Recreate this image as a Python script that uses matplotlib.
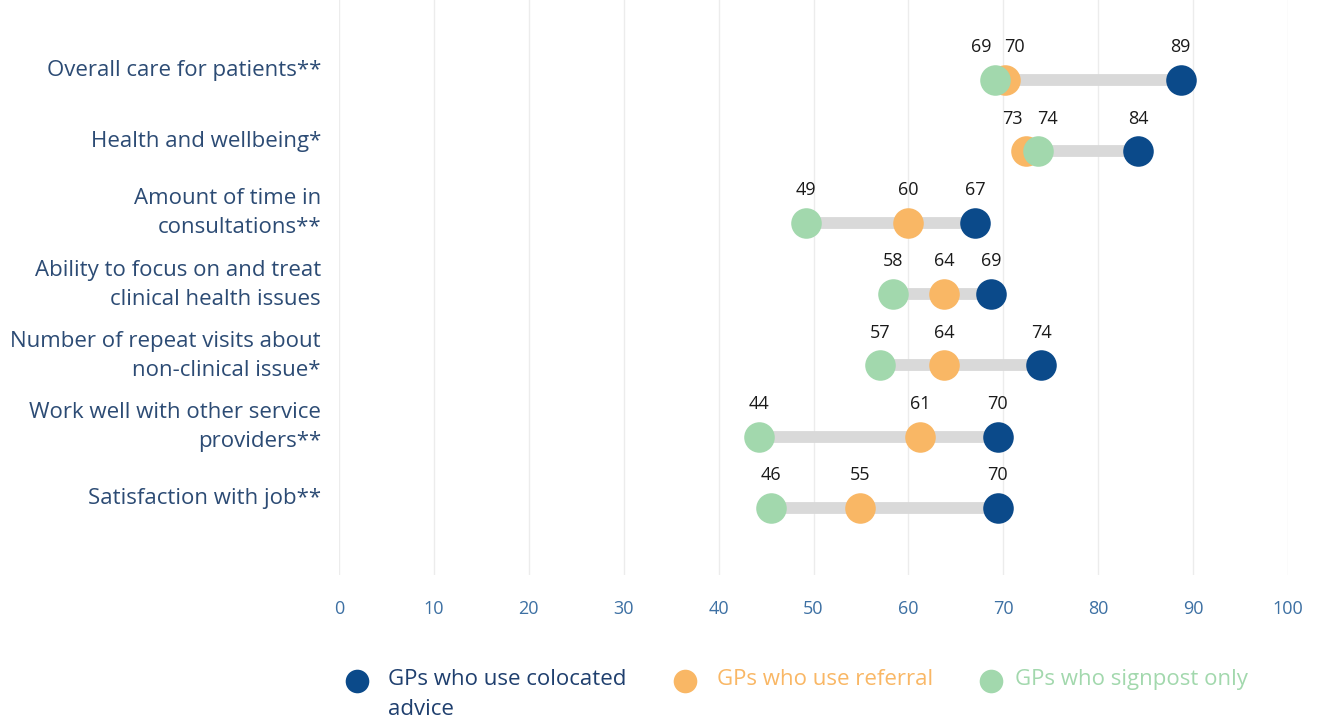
import matplotlib.pyplot as plt
from matplotlib.lines import Line2D

# === DATA ===
categories = [
    "Overall care for patients**",
    "Health and wellbeing*",
    "Amount of time in\nconsultations**",
    "Ability to focus on and treat\nclinical health issues",
    "Number of repeat visits about\nnon-clinical issue*",
    "Work well with other service\nproviders**",
    "Satisfaction with job**",
]
colocated = [88.7, 84.2, 67.0, 68.7, 74.0, 69.4, 69.4]
referral = [70.2, 72.4, 60.0, 63.8, 63.8, 61.2, 54.9]
signpost = [69.1, 73.7, 49.2, 58.4, 57.0, 44.3, 45.5]
colocated_lbl = [89, 84, 67, 69, 74, 70, 70]
referral_lbl = [70, 73, 60, 64, 64, 61, 55]
signpost_lbl = [69, 74, 49, 58, 57, 44, 46]
ticks = list(range(0, 101, 10))

NAVY = "#0b4a8a"
ORANGE = "#f9b765"
GREEN = "#a2d8ad"
LINE = "#d9d9d9"
LABEL = "#2c4b74"
TICK = "#3d70a3"

plt.rcParams["font.family"] = ["Open Sans", "DejaVu Sans"]

fig = plt.figure(figsize=(13.18, 7.22), dpi=100)
ax = fig.add_axes([339 / 1318, 1 - 575 / 722, 949 / 1318, 575 / 722])

rows = list(range(len(categories)))

# connectors
for i in rows:
    lo = min(colocated[i], referral[i], signpost[i])
    hi = max(colocated[i], referral[i], signpost[i])
    ax.plot([lo, hi], [i, i], color=LINE, lw=8.5, solid_capstyle="butt", zorder=2)

ax.plot(colocated, rows, "o", color=NAVY, ms=22, mec="none", zorder=3)
ax.plot(referral, rows, "o", color=ORANGE, ms=22, mec="none", zorder=4)
ax.plot(signpost, rows, "o", color=GREEN, ms=22, mec="none", zorder=5)

# value labels, nudged apart where dots overlap
for i in rows:
    vals = [(colocated[i], colocated_lbl[i]), (referral[i], referral_lbl[i]),
            (signpost[i], signpost_lbl[i])]
    vals.sort()
    for k, (v, lbl) in enumerate(vals):
        dx = 0
        if k + 1 < len(vals) and vals[k + 1][0] - v < 3:
            dx = -1.4
        elif k > 0 and v - vals[k - 1][0] < 3:
            dx = 1.0
        ax.text(v + dx, i - 0.33, str(lbl), ha="center", va="bottom",
                fontsize=13, color="#1a1a1a")

# category labels
for i, c in enumerate(categories):
    ax.text(-0.019, i - 0.13, c, transform=ax.get_yaxis_transform(),
            ha="right", va="center", fontsize=16, color=LABEL,
            linespacing=1.5)

ax.set_xlim(0, 100)
ax.set_ylim(6.94, -1.12)
ax.set_xticks(ticks)
ax.set_xticklabels([str(t) for t in ticks], fontsize=13, color=TICK)
ax.tick_params(axis="x", length=0, pad=18)
ax.set_yticks([])
ax.grid(axis="x", color="#ececec", lw=1)
ax.set_axisbelow(True)
for s in ax.spines.values():
    s.set_visible(False)

# legend
legend_items = [
    (357, 388, NAVY, "#1f3f6e", "GPs who use colocated\nadvice"),
    (685, 717, ORANGE, ORANGE, "GPs who use referral"),
    (991, 1015, GREEN, GREEN, "GPs who signpost only"),
]
for mx, tx, mc, tc, txt in legend_items:
    fig.add_artist(Line2D([mx / 1318], [1 - 681 / 722], marker="o", ms=17,
                          color=mc, mec="none", transform=fig.transFigure))
    fig.text(tx / 1318, 1 - 669 / 722, txt, ha="left", va="top",
             fontsize=16, color=tc, linespacing=1.55)

fig.savefig("out.png", dpi=100)
